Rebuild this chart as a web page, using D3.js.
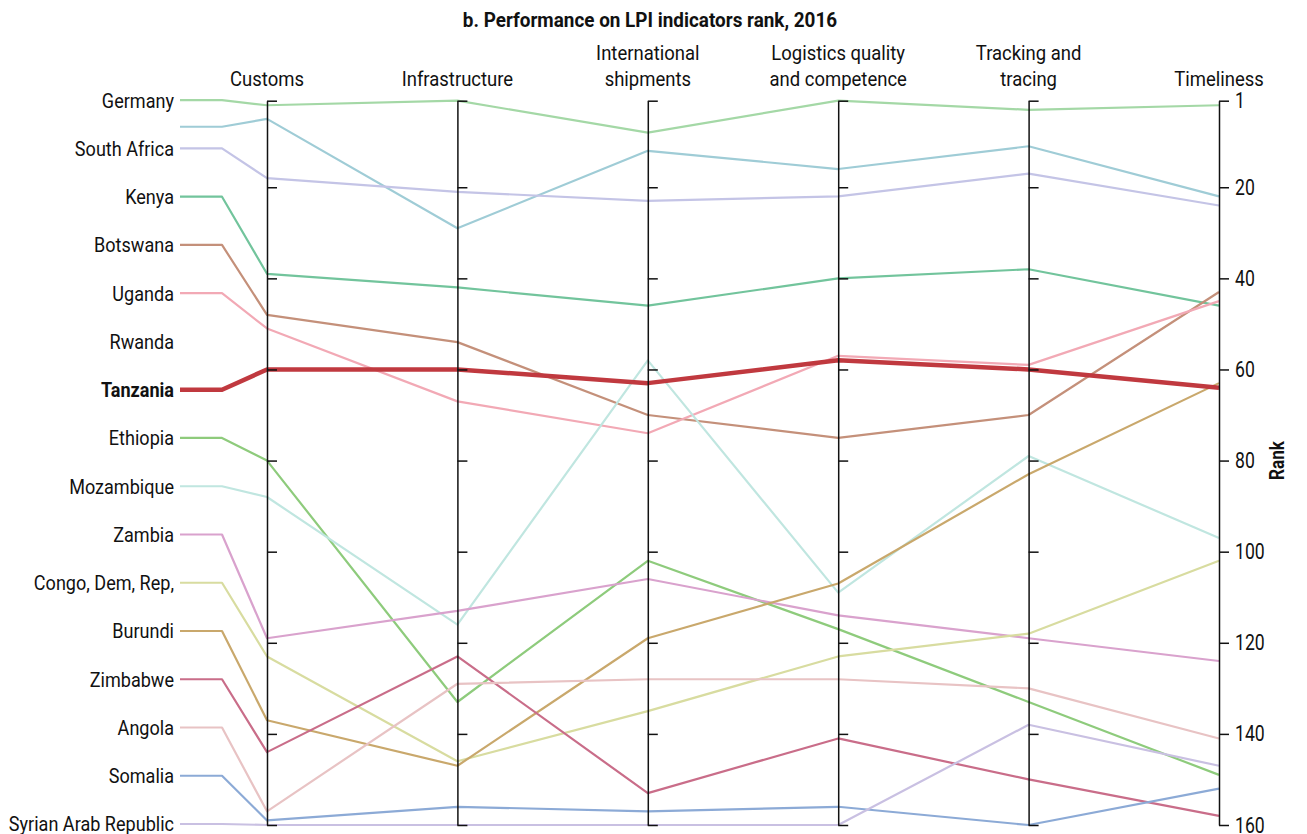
<!DOCTYPE html>
<html>
<head>
<meta charset="utf-8">
<script src="https://cdn.jsdelivr.net/npm/d3@7"></script>
<style>
  html, body { margin: 0; padding: 0; background: #fff; }
  svg { display: block; }
  text { font-family: Roboto, "Noto Sans", sans-serif; fill: #111; }
</style>
</head>
<body>
<svg id="chart" width="1307" height="834"></svg>
<script>
// ---------- DATA ----------
const title = "b. Performance on LPI indicators rank, 2016";
const dimensions = ["Customs", "Infrastructure", "International shipments",
  "Logistics quality and competence", "Tracking and tracing", "Timeliness"];
const dimensionLines = [["Customs"], ["Infrastructure"], ["International", "shipments"],
  ["Logistics quality", "and competence"], ["Tracking and", "tracing"], ["Timeliness"]];
const labels = ["Germany", "South Africa", "Kenya", "Botswana", "Uganda", "Rwanda", "Tanzania",
  "Ethiopia", "Mozambique", "Zambia", "Congo, Dem, Rep,", "Burundi", "Zimbabwe", "Angola",
  "Somalia", "Syrian Arab Republic"];
const rankTicks = [1, 20, 40, 60, 80, 100, 120, 140, 160];

// ranks per dimension (Customs ... Timeliness)
const germany     = [2, 1, 8, 1, 3, 2];
const unlabelled  = [5, 29, 12, 16, 11, 22];
const southAfrica = [18, 21, 23, 22, 17, 24];
const kenya       = [39, 42, 46, 40, 38, 46];
const botswana    = [48, 54, 70, 75, 70, 43];
const uganda      = [51, 67, 74, 57, 59, 45];
const tanzania    = [60, 60, 63, 58, 60, 64];
const ethiopia    = [80, 133, 102, 117, 133, 149];
const mozambique  = [88, 116, 58, 109, 79, 97];
const zambia      = [119, 113, 106, 114, 119, 124];
const congo       = [123, 146, 135, 123, 118, 102];
const burundi     = [137, 147, 119, 107, 83, 63];
const zimbabwe    = [144, 123, 153, 141, 150, 158];
const angola      = [157, 129, 128, 128, 130, 141];
const somalia     = [159, 156, 157, 156, 160, 152];
const syria       = [160, 160, 160, 160, 138, 147];

const series = [
  { name: "Germany", values: germany, color: "#a4d8a6" },
  { name: null, values: unlabelled, color: "#9fccd6" },
  { name: "South Africa", values: southAfrica, color: "#c4c4e6" },
  { name: "Kenya", values: kenya, color: "#72c49c" },
  { name: "Botswana", values: botswana, color: "#c4907a" },
  { name: "Uganda", values: uganda, color: "#f2a9b5" },
  { name: "Ethiopia", values: ethiopia, color: "#8ecb7c" },
  { name: "Mozambique", values: mozambique, color: "#c0e6e0" },
  { name: "Zambia", values: zambia, color: "#d9a2cd" },
  { name: "Congo, Dem, Rep,", values: congo, color: "#d8dca0" },
  { name: "Burundi", values: burundi, color: "#c9a86c" },
  { name: "Zimbabwe", values: zimbabwe, color: "#c96d89" },
  { name: "Angola", values: angola, color: "#e8c3c4" },
  { name: "Somalia", values: somalia, color: "#8caad6" },
  { name: "Syrian Arab Republic", values: syria, color: "#c9c0e2" },
  { name: "Tanzania", values: tanzania, color: "#c0393f", highlight: true }
];

// ---------- LAYOUT ----------
const svg = d3.select("#chart");
const y = d3.scaleLinear().domain([1, 160]).range([100.7, 825]);
const x = d3.scalePoint().domain(dimensions).range([267, 1219]);
const slot = d3.scalePoint().domain(labels).range([y(1) - 0.5, y(160) - 1]);
const labelRight = 174, stubStart = 180, stubEnd = 222;
const SX = 0.86; // horizontal condensing to mimic a condensed face

function addText(parent, tx, ty, str, opt = {}) {
  const g = parent.append("g").attr("transform", `translate(${tx},${ty}) scale(${opt.sx || SX},1)`);
  return g.append("text").attr("text-anchor", opt.anchor || "middle")
    .attr("dy", opt.dy || null)
    .style("font-size", (opt.size || 20) + "px")
    .style("font-weight", opt.weight || "normal").text(str);
}

function anchorY(s) {
  if (s.name) return slot(s.name);
  return slot(labels[0]) + 0.55 * (slot(labels[1]) - slot(labels[0]));
}

// title
addText(svg, 650, 27, title, { size: 21, weight: "bold", sx: 0.9 });

// axis headers
dimensions.forEach((d, i) => {
  const lines = dimensionLines[i];
  lines.forEach((ln, j) => {
    addText(svg, x(d), 86 - (lines.length - 1 - j) * 26, ln, { size: 21, sx: 0.88 });
  });
});

// lines
const line = d3.line().x(p => p[0]).y(p => p[1]);
series.forEach(s => {
  const a = anchorY(s);
  const pts = [[stubStart, a], [stubEnd, a]].concat(s.values.map((v, i) => [x(dimensions[i]), y(v)]));
  svg.append("path").attr("d", line(pts)).attr("fill", "none")
    .attr("stroke", s.color).attr("stroke-width", s.highlight ? 4.5 : 2.2)
    .attr("stroke-linejoin", "round");
});

// axes
dimensions.forEach((d, i) => {
  const last = i === dimensions.length - 1;
  const ax = d3.axisRight(y).tickValues(rankTicks).tickSize(10).tickSizeOuter(0).tickPadding(6)
    .tickFormat(last ? d3.format("d") : () => "");
  const g = svg.append("g").attr("transform", `translate(${x(d)},0)`).call(ax);
  g.select(".domain").attr("stroke", "#111").attr("stroke-width", 1.5);
  g.selectAll(".tick line").attr("stroke", "#111").attr("stroke-width", 1.5);
  g.selectAll(".tick text").style("font-size", "22px").attr("fill", "#111")
    .style("font-family", "Roboto, sans-serif")
    .attr("x", 16 / 0.8).attr("transform", "scale(0.8,1)");
});

// country labels
labels.forEach(l => {
  addText(svg, labelRight, slot(l), l, { anchor: "end", dy: "0.35em", size: 21, sx: 0.86,
    weight: l === "Tanzania" ? "bold" : "normal" });
});

// rank axis title
svg.append("g").attr("transform", `translate(1284,${y(80)}) rotate(-90) scale(0.82,1)`)
  .append("text").attr("text-anchor", "middle").style("font-weight", "bold")
  .style("font-size", "21px").text("Rank");
</script>
</body>
</html>
